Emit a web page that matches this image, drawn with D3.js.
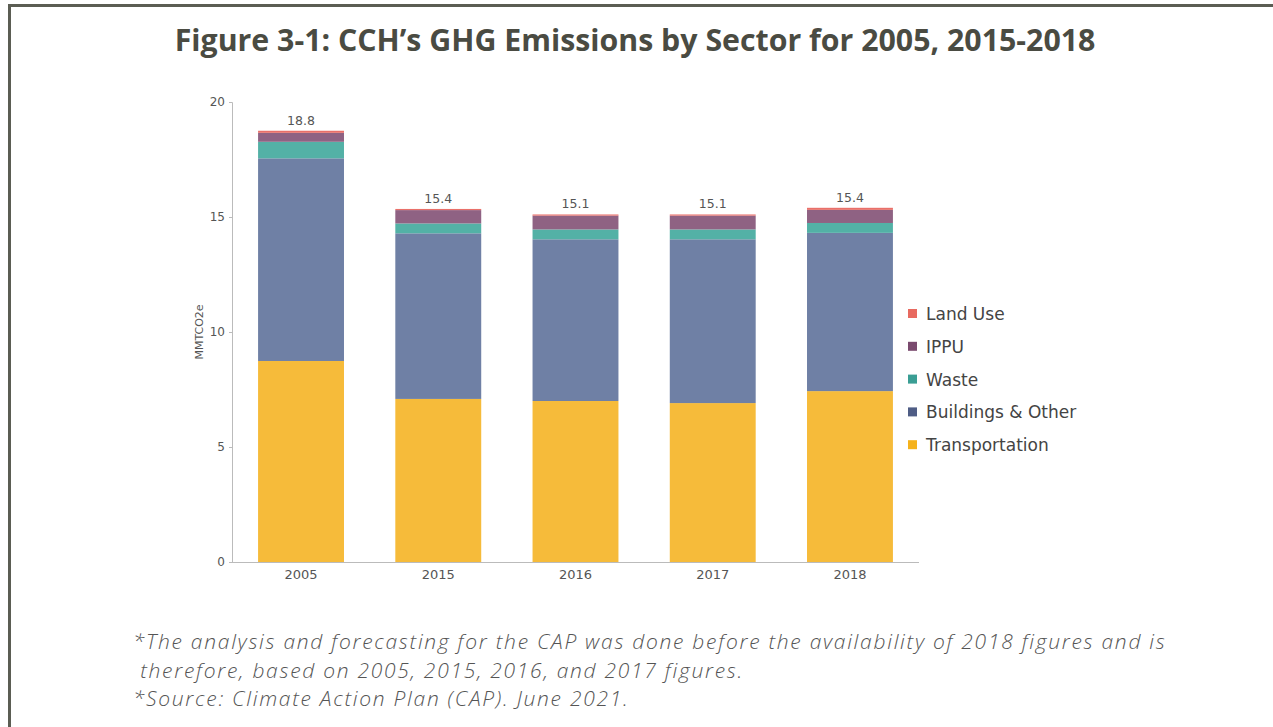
<!DOCTYPE html>
<html>
<head>
<meta charset="utf-8">
<script src="https://cdn.jsdelivr.net/npm/d3@7"></script>
<style>
  body { margin: 0; background: #fff; }
  svg { display: block; }
  .tick text { fill: #555; font-family: "DejaVu Sans", sans-serif; }
</style>
</head>
<body>
<svg id="chart" width="1273" height="727"></svg>
<script>
// data (MMTCO2e)
const years = ['2005', '2015', '2016', '2017', '2018']
const sectors = ['Transportation', 'Buildings & Other', 'Waste', 'IPPU', 'Land Use']
const transportation = [8.74, 7.09, 7.00, 6.91, 7.43]
const buildings = [8.81, 7.20, 7.03, 7.12, 6.88]
const waste = [0.72, 0.43, 0.43, 0.43, 0.43]
const ippu = [0.39, 0.58, 0.60, 0.60, 0.57]
const landUse = [0.09, 0.05, 0.05, 0.05, 0.09]
const totals = ['18.8', '15.4', '15.1', '15.1', '15.4']
const yTicks = [0, 5, 10, 15, 20]

const barColors = ['#f6bb3a', '#6f80a5', '#53b1a6', '#8f6283', '#e9706a']
const legendColors = ['#f5b21b', '#4f5d85', '#3a9e94', '#7a4a6e', '#e86a60']

const rows = years.map((y, i) => ({
  year: y,
  'Transportation': transportation[i],
  'Buildings & Other': buildings[i],
  'Waste': waste[i],
  'IPPU': ippu[i],
  'Land Use': landUse[i],
}))

const svg = d3.select('#chart')

// frame
svg.append('path')
  .attr('d', 'M9.5,727 V5.5 H1273')
  .attr('fill', 'none')
  .attr('stroke', '#5b5d53')
  .attr('stroke-width', 3)

svg.append('text')
  .attr('x', 635).attr('y', 51)
  .attr('text-anchor', 'middle')
  .attr('font-family', '"Open Sans", sans-serif')
  .attr('font-weight', 700)
  .attr('font-size', 30.3)
  .attr('fill', '#4a4b42')
  .text('Figure 3-1: CCH’s GHG Emissions by Sector for 2005, 2015-2018')

const x = d3.scaleBand().domain(years).range([232, 919]).paddingInner(0.374).paddingOuter(0.19)
const y = d3.scaleLinear().domain([0, 20]).range([562, 102])

const stack = d3.stack().keys(sectors)(rows)
const color = d3.scaleOrdinal().domain(sectors).range(barColors)

svg.append('g')
  .selectAll('g')
  .data(stack)
  .join('g')
  .attr('fill', d => color(d.key))
  .selectAll('rect')
  .data(d => d)
  .join('rect')
  .attr('x', d => x(d.data.year))
  .attr('width', x.bandwidth())
  .attr('y', d => y(d[1]))
  .attr('height', d => y(d[0]) - y(d[1]))

// totals above bars
const last = stack[stack.length - 1]
svg.append('g')
  .selectAll('text')
  .data(last)
  .join('text')
  .attr('x', d => x(d.data.year) + x.bandwidth() / 2)
  .attr('y', d => y(d[1]) - 6)
  .attr('text-anchor', 'middle')
  .attr('font-family', '"DejaVu Sans", sans-serif')
  .attr('font-size', 12.5)
  .attr('fill', '#555')
  .text((d, i) => totals[i])

// y axis
const yAxis = svg.append('g')
  .attr('transform', 'translate(232,0)')
  .call(d3.axisLeft(y).tickValues(yTicks).tickSize(3).tickPadding(4))
yAxis.selectAll('.domain').attr('stroke', '#bbb')
yAxis.selectAll('.tick line').attr('stroke', '#bbb')
yAxis.selectAll('.tick text').attr('font-size', 12)

// x axis
const xAxis = svg.append('g')
  .attr('transform', 'translate(0,562)')
  .call(d3.axisBottom(x).tickSize(0).tickPadding(8))
xAxis.select('.domain').attr('stroke', '#bbb').attr('d', 'M232,0.5H919')
xAxis.selectAll('.tick text').attr('font-size', 13).attr('fill', '#444')
  .attr('font-family', '"Open Sans", sans-serif')

svg.append('text')
  .attr('transform', 'translate(203,332) rotate(-90)')
  .attr('text-anchor', 'middle')
  .attr('font-family', '"DejaVu Sans", sans-serif')
  .attr('font-size', 11)
  .attr('fill', '#555')
  .text('MMTCO2e')

// legend (top to bottom: reverse stack order)
const legend = svg.append('g')
  .selectAll('g')
  .data(sectors.slice().reverse())
  .join('g')
  .attr('transform', (d, i) => `translate(908,${314 + i * 32.8})`)
legend.append('rect')
  .attr('x', 0).attr('y', -5).attr('width', 9).attr('height', 9)
  .attr('fill', d => legendColors[sectors.indexOf(d)])
legend.append('text')
  .attr('x', 18).attr('y', 0).attr('dy', '0.35em')
  .attr('font-family', '"DejaVu Sans", sans-serif')
  .attr('font-size', 17)
  .attr('fill', '#444')
  .text(d => d)

// footnotes
const notes = [
  '*The analysis and forecasting for the CAP was done before the availability of 2018 figures and is',
  ' therefore, based on 2005, 2015, 2016, and 2017 figures.',
  '*Source: Climate Action Plan (CAP). June 2021.',
]
svg.append('g')
  .selectAll('text')
  .data(notes)
  .join('text')
  .attr('x', 133)
  .attr('y', (d, i) => 649 + i * 28.5)
  .attr('xml:space', 'preserve')
  .attr('font-family', '"Open Sans", sans-serif')
  .attr('font-style', 'italic')
  .attr('font-weight', 300)
  .attr('font-size', 21)
  .attr('letter-spacing', 1.72)
  .attr('fill', '#555')
  .text(d => d)
</script>
</body>
</html>
